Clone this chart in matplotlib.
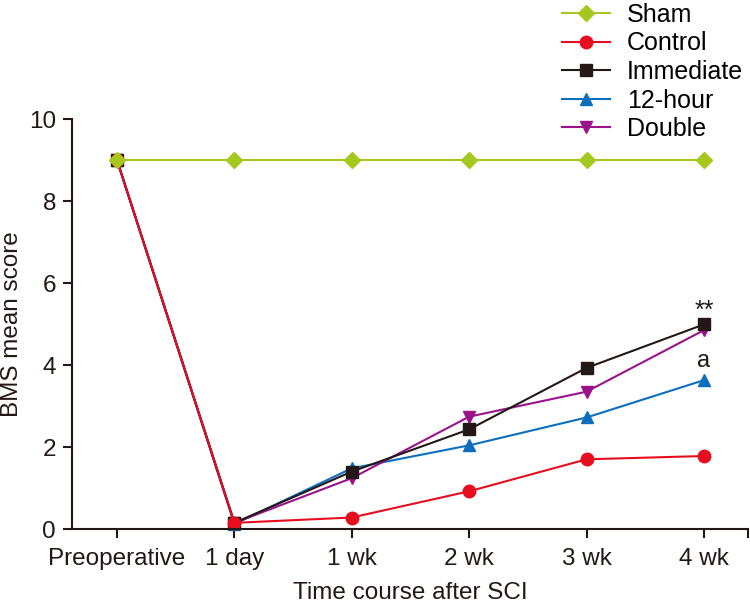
import matplotlib
matplotlib.use("Agg")
import matplotlib.pyplot as plt

plt.rcParams['font.family'] = ['Liberation Sans', 'DejaVu Sans']

# time points
timepoints = ["Preoperative", "1 day", "1 wk", "2 wk", "3 wk", "4 wk"]

# BMS mean scores
sham = [9, 9, 9, 9, 9, 9]
control = [9, 0.15, 0.28, 0.92, 1.70, 1.78]
immediate = [9, 0.15, 1.40, 2.43, 3.93, 4.99]
hour12 = [9, 0.12, 1.48, 2.04, 2.72, 3.63]
double = [9, 0.15, 1.24, 2.74, 3.35, 4.85]

C_SHAM = "#a6c81e"
C_CONTROL = "#e60e1e"
C_IMM = "#231815"
C_12H = "#0b6fbe"
C_DOUBLE = "#9c128b"

fig = plt.figure(figsize=(7.5, 6.06), dpi=100)
ax = fig.add_axes([72 / 750, 1 - 529 / 606, (748 - 72) / 750, (529 - 119) / 606])

x = list(range(len(timepoints)))
lw = 1.5

l12, = ax.plot(x, hour12, color=C_12H, lw=lw, marker='^', ms=9, label="12-hour", clip_on=False)
ld, = ax.plot(x, double, color=C_DOUBLE, lw=lw, marker='v', ms=9, label="Double", clip_on=False)
li, = ax.plot(x, immediate, color=C_IMM, lw=lw, marker='s', ms=8, label="Immediate", clip_on=False)
lc, = ax.plot(x, control, color=C_CONTROL, lw=lw, marker='o', ms=9, label="Control", clip_on=False)
ls, = ax.plot(x, sham, color=C_SHAM, lw=lw, marker='D', ms=8, label="Sham", clip_on=False)

# significance marks at 4 wk
ax.annotate("**", (x[-1], immediate[-1]), xytext=(0, 1), textcoords='offset points',
            ha='center', va='bottom', fontsize=18, color=C_IMM)
ax.annotate("a", (x[-1], hour12[-1]), xytext=(0, 6), textcoords='offset points',
            ha='center', va='bottom', fontsize=17, color=C_IMM)

ax.set_xlim(-0.383, 5.375)
ax.set_ylim(0, 10)
ax.set_xticks(x + [5.375])
ax.set_xticklabels(timepoints + [""])
ax.set_yticks([0, 2, 4, 6, 8, 10])

for s in ["top", "right"]:
    ax.spines[s].set_visible(False)
for s in ["left", "bottom"]:
    ax.spines[s].set_color(C_IMM)
    ax.spines[s].set_linewidth(1.5)

ax.tick_params(direction='out', length=6.5, width=1.5, color=C_IMM,
               labelsize=17.5, labelcolor=C_IMM)
ax.tick_params(axis='x', pad=7)
ax.tick_params(axis='y', pad=5)

ax.set_xlabel("Time course after SCI", fontsize=17.5, color=C_IMM, labelpad=9)
ax.set_ylabel("BMS mean score", fontsize=17.5, color=C_IMM, labelpad=4)

fig.legend(handles=[ls, lc, li, l12, ld], loc='upper left',
           bbox_to_anchor=(562 / 750, 1 - 3 / 606), frameon=False, fontsize=18,
           handlelength=1.9, handletextpad=0.7, labelspacing=0.18,
           borderpad=0, borderaxespad=0)

fig.savefig("out.png", dpi=100)
